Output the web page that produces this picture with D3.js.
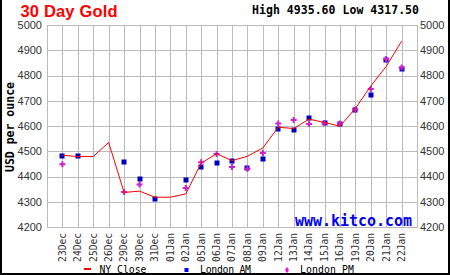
<!DOCTYPE html>
<html><head><meta charset="utf-8">
<script src="https://cdn.jsdelivr.net/npm/d3@7"></script>
<style>html,body{margin:0;padding:0;background:#fff;}svg{display:block;}</style>
</head><body>
<svg id="c" width="450" height="275"></svg>
<script>
const categories = ["23Dec","24Dec","25Dec","26Dec","29Dec","30Dec","31Dec","01Jan","02Jan","05Jan","06Jan","07Jan","08Jan","09Jan","12Jan","13Jan","14Jan","15Jan","16Jan","19Jan","20Jan","21Jan","22Jan"];
const nyClose = [4484,4479,4479,4535,4337,4342,4318,4318,4331,4453,4490,4463,4480,4513,4595,4590,4627,4614,4599,4669,4758,4836,4935.6];
const londonAM = [4481,4481,null,null,4457,4390,4309,null,4386,4438,4453,4461,4434,4469,4589,4584,4632,4610,4608,4665,4723,4863,4826];
const londonPM = [4449,null,null,null,4339,4368,null,null,4354,4456,4489,4438,4431,4493,4610,4624,4608,4611,4610,4665,4747,4865,4832];
const yTicks = [4200,4300,4400,4500,4600,4700,4800,4900,5000];
const title = "30 Day Gold";
const highLow = "High 4935.60 Low 4317.50";

const svg = d3.select("#c");
const L = 47, R = 417, T = 25, B = 227;
const x = d3.scalePoint().domain(categories).range([L, R]).padding(1);
const y = d3.scaleLinear().domain([4200, 5000]).range([B, T]);
const px = v => Math.round(v) + 0.5;

// border
svg.append("path").attr("d", "M1,0V274H449V0").attr("fill","none").attr("stroke","#000").attr("stroke-width",2);

// grid
const g = svg.append("g");
yTicks.forEach(t => g.append("line").attr("x1", L).attr("x2", R + 0.5).attr("y1", px(y(t))).attr("y2", px(y(t))).attr("stroke", "#bbb"));
const vx = [L, ...categories.map(c => x(c)), R];
vx.forEach(v => g.append("line").attr("x1", px(v)).attr("x2", px(v)).attr("y1", T).attr("y2", B + 0.5).attr("stroke", "#bbb"));

// y labels
yTicks.forEach(t => {
  svg.append("text").attr("x", 42).attr("y", y(t)).attr("dy", "0.36em").attr("text-anchor", "end")
    .attr("font-family", "Liberation Sans, Arial, sans-serif").attr("font-size", 11).attr("fill", "#333").text(t);
  svg.append("text").attr("x", 420).attr("y", y(t)).attr("dy", "0.36em").attr("text-anchor", "start")
    .attr("font-family", "Liberation Sans, Arial, sans-serif").attr("font-size", 11).attr("fill", "#333").text(t);
});

// x labels
categories.forEach(c => {
  svg.append("text").attr("transform", `translate(${x(c)},233) rotate(-90)`).attr("dy", "0.35em")
    .attr("text-anchor", "end").attr("font-family", "DejaVu Sans Mono, monospace").attr("font-size", 9.6)
    .attr("fill", "#333").text(c);
});

// watermark
svg.append("text").attr("x", 295).attr("y", 225.5).attr("font-family", "DejaVu Sans Mono, monospace")
  .attr("font-weight", "bold").attr("font-size", 15).attr("fill", "#0000ee").attr("textLength", 117).text("www.kitco.com");

// markers
const amData = categories.map((c, i) => [c, londonAM[i]]).filter(d => d[1] != null);
const pmData = categories.map((c, i) => [c, londonPM[i]]).filter(d => d[1] != null);
svg.append("g").selectAll("rect").data(amData).join("rect")
  .attr("x", d => Math.round(x(d[0])) - 2.5).attr("y", d => Math.round(y(d[1])) - 2.5)
  .attr("width", 5).attr("height", 5).attr("fill", "#0000bb");
const cross = d3.symbol().type(d3.symbolCross).size(20);
svg.append("g").selectAll("path").data(pmData).join("path")
  .attr("transform", d => `translate(${x(d[0])},${y(d[1])})`).attr("d", cross).attr("fill", "#cc22cc");

// line
const line = d3.line().x((d, i) => x(categories[i])).y(d => y(d));
svg.append("path").datum(nyClose).attr("d", line).attr("fill", "none").attr("stroke", "#ff0000").attr("stroke-width", 1);

// title
svg.append("text").attr("x", 20.5).attr("y", 16.5).attr("font-family", "Liberation Sans, Arial, sans-serif")
  .attr("font-weight", "bold").attr("font-size", 16.5).attr("fill", "#ff0000").attr("textLength", 97).text(title);
svg.append("text").attr("x", 252).attr("y", 14.3).attr("font-family", "DejaVu Sans Mono, monospace")
  .attr("font-weight", "bold").attr("font-size", 11.5).attr("fill", "#000").attr("textLength", 167).text(highLow);

// y axis title
svg.append("text").attr("transform", "translate(10,127) rotate(-90)").attr("dy", "0.35em").attr("text-anchor", "middle")
  .attr("font-family", "DejaVu Sans Mono, monospace").attr("font-weight", "bold").attr("font-size", 11.5)
  .attr("fill", "#000").attr("textLength", 90).text("USD per ounce");

// legend
svg.append("line").attr("x1", 84).attr("x2", 91).attr("y1", 269).attr("y2", 269).attr("stroke", "#ff0000").attr("stroke-width", 2);
svg.append("text").attr("x", 99.5).attr("y", 272.5).attr("font-family", "DejaVu Sans Mono, monospace").attr("font-size", 9.8).attr("fill", "#000").attr("textLength", 47).text("NY Close");
svg.append("rect").attr("x", 184.5).attr("y", 268).attr("width", 4).attr("height", 4).attr("fill", "#0000ff");
svg.append("text").attr("x", 200).attr("y", 272.5).attr("font-family", "DejaVu Sans Mono, monospace").attr("font-size", 9.8).attr("fill", "#000").attr("textLength", 51).text("London AM");
svg.append("path").attr("transform", "translate(287,270)").attr("d", d3.symbol().type(d3.symbolDiamond).size(12)).attr("fill", "#ff00ff");
svg.append("text").attr("x", 300).attr("y", 272.5).attr("font-family", "DejaVu Sans Mono, monospace").attr("font-size", 9.8).attr("fill", "#000").attr("textLength", 54).text("London PM");
</script>
</body></html>
